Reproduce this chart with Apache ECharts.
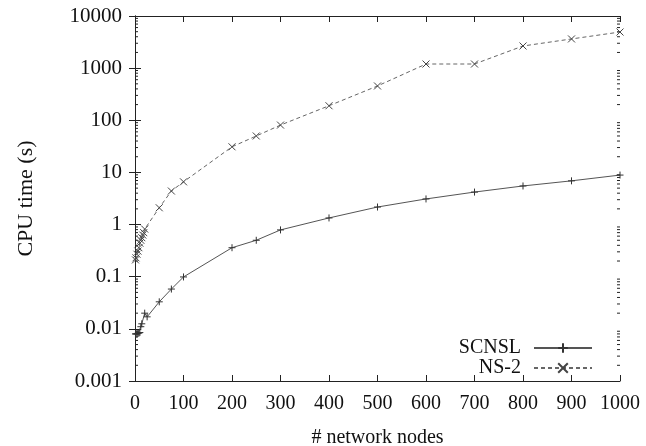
<!DOCTYPE html>
<html>
<head>
<meta charset="utf-8">
<script src="https://cdn.jsdelivr.net/npm/echarts@6/dist/echarts.min.js"></script>
<style>
  html, body { margin: 0; padding: 0; background: #fff; }
  #chart { width: 646px; height: 446px; }
</style>
</head>
<body>
<div id="chart"></div>
<script>
// CPU time vs. network size for the two simulators
const scnslNodes = [1, 2, 4, 6, 8, 10, 12, 14, 20, 25, 50, 75, 100, 200, 250, 300, 400, 500, 600, 700, 800, 900, 1000];
const scnslTime  = [0.008, 0.008, 0.008, 0.0082, 0.0083, 0.0085, 0.011, 0.0125, 0.02, 0.017, 0.033, 0.058, 0.099, 0.36, 0.5, 0.79, 1.34, 2.17, 3.1, 4.2, 5.5, 6.9, 8.9];

const ns2Nodes = [1, 2, 4, 6, 8, 10, 12, 14, 16, 18, 20, 50, 75, 100, 200, 250, 300, 400, 500, 600, 700, 800, 900, 1000];
const ns2Time  = [0.21, 0.23, 0.27, 0.31, 0.36, 0.44, 0.5, 0.56, 0.63, 0.7, 0.82, 2.1, 4.4, 6.6, 31, 50, 81, 190, 455, 1200, 1200, 2660, 3630, 4930];

const xTicks = [0, 100, 200, 300, 400, 500, 600, 700, 800, 900, 1000];
const yTicks = [0.001, 0.01, 0.1, 1, 10, 100, 1000, 10000];
// minor ticks at 2..9 within each decade
const minorMultipliers = [2, 3, 4, 5, 6, 7, 8, 9];

const pairs = (xs, ys) => xs.map((x, i) => [x, ys[i]]);
const yMinor = [];
yTicks.slice(0, -1).forEach(d => minorMultipliers.forEach(m => yMinor.push(+(d * m).toPrecision(3))));

const FONT = '"Liberation Serif", "DejaVu Serif", serif';
const AXIS = '#222';
const TEXT = '#111';
const PLUS = 'path://M0,5H10M5,0V10';
const CROSS = 'path://M0,0L10,10M10,0L0,10';
const X_MIN = xTicks[0];
const X_MAX = xTicks[xTicks.length - 1];

const chart = echarts.init(document.getElementById('chart'), null, { renderer: 'canvas' });

const baseX = {
  type: 'value',
  min: X_MIN,
  max: X_MAX,
  interval: 100,
  splitLine: { show: false },
  axisLine: { show: true, lineStyle: { color: AXIS, width: 1 } },
  axisTick: { show: true, inside: true, length: 6, lineStyle: { color: AXIS } }
};
const baseY = {
  type: 'log',
  logBase: 10,
  min: yTicks[0],
  max: yTicks[yTicks.length - 1],
  splitLine: { show: false },
  axisLine: { show: true, lineStyle: { color: AXIS, width: 1 } },
  axisTick: { show: true, inside: true, length: 6, lineStyle: { color: AXIS } }
};

// short inward ticks on both vertical frame edges for the log minor steps
function renderMinorTick(params, api) {
  const v = api.value(1);
  const l = api.coord([X_MIN, v]);
  const r = api.coord([X_MAX, v]);
  const style = { stroke: AXIS, lineWidth: 1 };
  return {
    type: 'group',
    children: [
      { type: 'line', shape: { x1: l[0], y1: l[1], x2: l[0] + 3, y2: l[1] }, style },
      { type: 'line', shape: { x1: r[0], y1: r[1], x2: r[0] - 3, y2: r[1] }, style }
    ]
  };
}

chart.setOption({
  animation: false,
  backgroundColor: '#fff',
  grid: { left: 135, right: 26, top: 16, bottom: 65, containLabel: false, outerBoundsMode: 'none' },
  xAxis: [
    Object.assign({}, baseX, {
      position: 'bottom',
      name: '# network nodes',
      nameLocation: 'middle',
      nameGap: 47,
      nameTextStyle: { fontFamily: FONT, fontSize: 20, color: TEXT },
      axisLabel: {
        fontFamily: FONT, fontSize: 20, color: TEXT, margin: 13,
        formatter: v => String(v)
      }
    }),
    Object.assign({}, baseX, {
      position: 'top',
      axisLabel: { show: false }
    })
  ],
  yAxis: [
    Object.assign({}, baseY, {
      position: 'left',
      name: 'CPU time (s)',
      nameLocation: 'middle',
      nameGap: 98,
      nameRotate: 90,
      nameTextStyle: { fontFamily: FONT, fontSize: 22, color: TEXT },
      axisLabel: {
        fontFamily: FONT, fontSize: 21, color: TEXT, margin: 13,
        formatter: v => {
          const e = Math.round(Math.log10(v));
          return e >= 0 ? String(Math.pow(10, e)) : (Math.pow(10, e)).toFixed(-e);
        }
      }
    }),
    Object.assign({}, baseY, {
      position: 'right',
      axisLabel: { show: false }
    })
  ],
  legend: {
    orient: 'vertical',
    right: 48,
    top: 333,
    align: 'right',
    itemWidth: 58,
    itemHeight: 12,
    itemGap: 0,
    textStyle: { fontFamily: FONT, fontSize: 20, color: TEXT, lineHeight: 18, padding: [0, 8, 0, 0] },
    data: ['SCNSL', 'NS-2']
  },
  series: [
    {
      name: 'minor ticks',
      type: 'custom',
      xAxisIndex: 0,
      yAxisIndex: 0,
      silent: true,
      clip: false,
      data: yMinor.map(v => [X_MIN, v]),
      renderItem: renderMinorTick,
      z: 1
    },
    {
      name: 'SCNSL',
      type: 'line',
      xAxisIndex: 0,
      yAxisIndex: 0,
      data: pairs(scnslNodes, scnslTime),
      symbol: PLUS,
      symbolSize: 7,
      showAllSymbol: true,
      lineStyle: { color: '#555', width: 1 },
      itemStyle: { color: 'none', borderColor: '#333', borderWidth: 1 },
      z: 3
    },
    {
      name: 'NS-2',
      type: 'line',
      xAxisIndex: 0,
      yAxisIndex: 0,
      data: pairs(ns2Nodes, ns2Time),
      symbol: CROSS,
      symbolSize: 7,
      showAllSymbol: true,
      lineStyle: { color: '#666', width: 1, type: [4, 3] },
      itemStyle: { color: 'none', borderColor: '#444', borderWidth: 1 },
      z: 3
    }
  ]
});
</script>
</body>
</html>
